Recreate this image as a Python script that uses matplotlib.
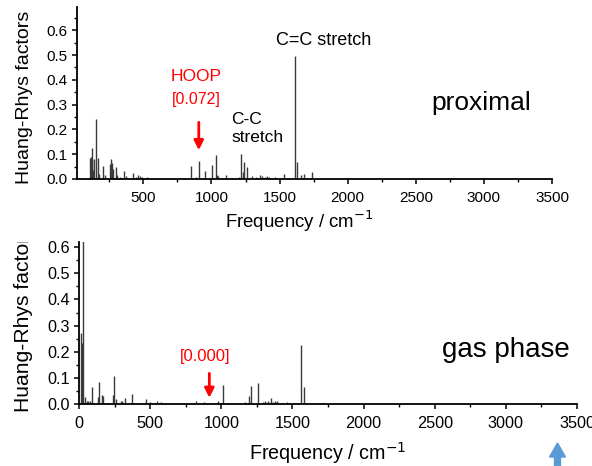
import numpy as np
import matplotlib
matplotlib.use('Agg')
import matplotlib.pyplot as plt
from matplotlib.ticker import MultipleLocator
from matplotlib.patches import FancyArrow
from matplotlib.transforms import Bbox, TransformedBbox

plt.rcParams['font.family'] = ['Liberation Sans', 'DejaVu Sans']

# proximal: frequency (cm-1) and Huang-Rhys factor
prox_freq = [110, 115, 121, 125, 132, 140, 150, 165, 172, 202, 220, 255, 260, 268, 275,
             297, 310, 330, 360, 375, 427, 445, 460, 475, 490, 525, 600,
             850, 890, 911, 953, 1005, 1032, 1040, 1048, 1105, 1150, 1200, 1215, 1228,
             1242, 1259, 1300, 1330, 1355, 1370, 1390, 1405, 1420, 1470, 1505, 1536,
             1614, 1631, 1658, 1683, 1739, 2790]
prox_hr = [0.085, 0.09, 0.127, 0.08, 0.035, 0.08, 0.243, 0.083, 0.02, 0.051, 0.015, 0.06, 0.08, 0.066, 0.04,
           0.049, 0.015, 0.008, 0.031, 0.012, 0.026, 0.01, 0.015, 0.012, 0.008, 0.008, 0.004,
           0.054, 0.01, 0.072, 0.034, 0.056, 0.096, 0.015, 0.012, 0.017, 0.005, 0.01, 0.102, 0.03,
           0.068, 0.047, 0.012, 0.01, 0.015, 0.012, 0.01, 0.012, 0.01, 0.01, 0.005, 0.02,
           0.495, 0.068, 0.015, 0.02, 0.03, 0.005]

# gas phase
gas_freq = [14, 22, 30, 42, 55, 65, 75, 89, 131, 139, 160, 166, 239, 246, 258, 295, 305,
            323, 375, 471, 500, 530, 545, 577, 820, 880, 975, 1010, 1165, 1198, 1207,
            1257, 1290, 1310, 1330, 1348, 1360, 1375, 1390, 1460, 1559, 1578, 1718]
gas_hr = [0.27, 0.235, 0.75, 0.026, 0.012, 0.01, 0.012, 0.066, 0.026, 0.086, 0.034, 0.03, 0.034, 0.109, 0.02, 0.01, 0.01,
          0.022, 0.039, 0.018, 0.008, 0.005, 0.012, 0.008, 0.012, 0.008, 0.012, 0.072, 0.006, 0.032, 0.067,
          0.082, 0.008, 0.01, 0.01, 0.022, 0.008, 0.01, 0.012, 0.008, 0.225, 0.064, 0.005]

fig = plt.figure(figsize=(5.92, 4.66), dpi=100)
ax1 = fig.add_axes([77 / 592, 1 - 179 / 466, 475 / 592, 172 / 466])
ax2 = fig.add_axes([79 / 592, 1 - 404 / 466, 498 / 592, 162 / 466])

stick_col = '#3a3a3a'
ax1.vlines(prox_freq, 0, prox_hr, color=stick_col, lw=1.0)
ax2.vlines(gas_freq, 0, gas_hr, color=stick_col, lw=1.0)

ax1.set_xlim(13, 3500)
ax1.set_ylim(0, 0.694)
ax2.set_xlim(0, 3500)
ax2.set_ylim(0, 0.62)

# the lower panel is drawn slightly larger in the original
sizes = {ax1: (11, 13.4, 14), ax2: (11.7, 14.2, 15.2)}

for ax in (ax1, ax2):
    tick_fs, xl_fs, yl_fs = sizes[ax]
    for s in ['top', 'right']:
        ax.spines[s].set_visible(False)
    for s in ['left', 'bottom']:
        ax.spines[s].set_linewidth(1.3)
    ax.xaxis.set_major_locator(MultipleLocator(500))
    ax.xaxis.set_minor_locator(MultipleLocator(250))
    ax.yaxis.set_major_locator(MultipleLocator(0.1))
    ax.yaxis.set_minor_locator(MultipleLocator(0.05))
    ax.yaxis.set_major_formatter(plt.FormatStrFormatter('%.1f'))
    ax.tick_params(which='major', length=3.5, width=1.1, labelsize=tick_fs)
    ax.tick_params(which='minor', length=2, width=1.0)
    ax.tick_params(axis='x', pad=5)
    ax.tick_params(axis='y', pad=3)
    ax.set_xlabel('Frequency / cm$^{-1}$', fontsize=xl_fs)
    ax.set_ylabel('Huang-Rhys factors', fontsize=yl_fs)

ax1.xaxis.set_label_coords(0.469, -0.17)
ax1.yaxis.set_label_coords(-0.0916, 0.474)
ax2.xaxis.set_label_coords(0.5, -0.222)
ax2.yaxis.set_label_coords(-0.0914, 0.528)

# bottom y label is cut at the top
clip = TransformedBbox(Bbox([[0, 0], [5.92, (466 - 242) / 100]]), fig.dpi_scale_trans)
ax2.yaxis.label.set_clip_box(clip)
ax2.yaxis.label.set_clip_on(True)

# annotations - top panel
ax1.text(1827, 0.56, 'C=C stretch', fontsize=13, ha='center', va='center')
ax1.text(889, 0.415, 'HOOP', fontsize=12.5, color='red', ha='center', va='center')
ax1.text(889, 0.322, '[0.072]', fontsize=11.5, color='red', ha='center', va='center')
ax1.text(1144, 0.204, 'C-C\nstretch', fontsize=12.5, ha='left', va='center')
ax1.text(2981, 0.308, 'proximal', fontsize=19, ha='center', va='center')
ax1.annotate('', xy=(907, 0.105), xytext=(907, 0.24),
             arrowprops=dict(arrowstyle='-|>', color='red', lw=2, mutation_scale=14))

# annotations - bottom panel
ax2.text(886, 0.181, '[0.000]', fontsize=12, color='red', ha='center', va='center')
ax2.text(2999, 0.207, 'gas phase', fontsize=20, ha='center', va='center')
ax2.annotate('', xy=(916, 0.013), xytext=(916, 0.128),
             arrowprops=dict(arrowstyle='-|>', color='red', lw=2, mutation_scale=14))

# blue arrow at the bottom edge
fig.add_artist(FancyArrow(5.575, -0.05, 0, 0.28, width=0.06, head_width=0.16,
                          head_length=0.14, length_includes_head=True,
                          color='#5b9bd5', transform=fig.dpi_scale_trans))

fig.savefig('out.png', dpi=100)
